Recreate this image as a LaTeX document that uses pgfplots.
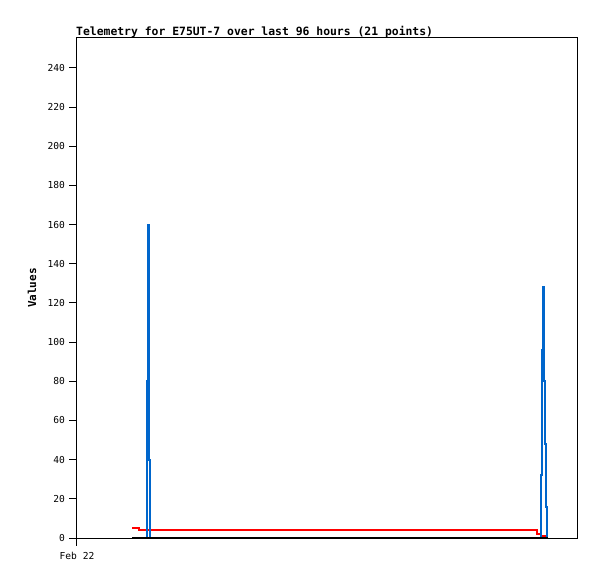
\documentclass[border=0pt]{standalone}
\usepackage{fontspec}
\setmainfont{DejaVu Sans Mono}
\usepackage{pgfplots}
\pgfplotsset{compat=1.18}
\definecolor{bl}{HTML}{0066CC}
\begin{document}
\begin{tikzpicture}
\begin{axis}[
  name=ax,
  scale only axis, width=500pt, height=500pt,
  xmin=0, xmax=96, ymin=0, ymax=255.3,
  ytick={0,20,...,240},
  xtick={0}, xticklabels={Feb 22},
  xtick pos=bottom, ytick pos=left,
  tick align=outside, major tick length=7.5pt,
  tick style={black, line width=1pt},
  axis line style={line width=1pt},
  /pgf/number format/assume math mode=true,
  ticklabel style={font=\fontsize{9.6}{11}\selectfont},
  yticklabel style={xshift=-1pt},
  xticklabel style={yshift=-3pt},
  title={\bfseries Telemetry for E75UT-7 over last 96 hours (21 points)},
  title style={at={(0,1)}, anchor=south west, inner sep=0pt, yshift=-6pt, xshift=-1pt, font=\fontsize{11.4}{13}\selectfont},
  ylabel={\bfseries Values},
  ylabel style={font=\fontsize{11}{13}\selectfont, at={(axis description cs:0,0.5)}, anchor=center, yshift=45pt},
  clip=false,
]
\addplot[const plot, color=red, line width=2pt] coordinates {
(10.56,5) (11.9,4) (88.25,2) (89.0,1) (90.0,1) (90.2,0)
};
\addplot[const plot, color=bl, line width=2pt] coordinates {
(10.56,0) (13.44,80) (13.6,160) (13.8,120) (13.9,40) (14.02,0)
(89.1,32) (89.3,96) (89.5,128) (89.66,112) (89.75,80) (89.86,48) (90.05,16) (90.24,0)
};
\addplot[const plot, color=black, line width=2pt] coordinates {
(10.56,0) (90.4,0)
};
\end{axis}
\pgfresetboundingbox
\path[use as bounding box] ([shift={(-77pt,-41pt)}]ax.south west) rectangle ([shift={(20pt,38pt)}]ax.north east);
\end{tikzpicture}
\end{document}
